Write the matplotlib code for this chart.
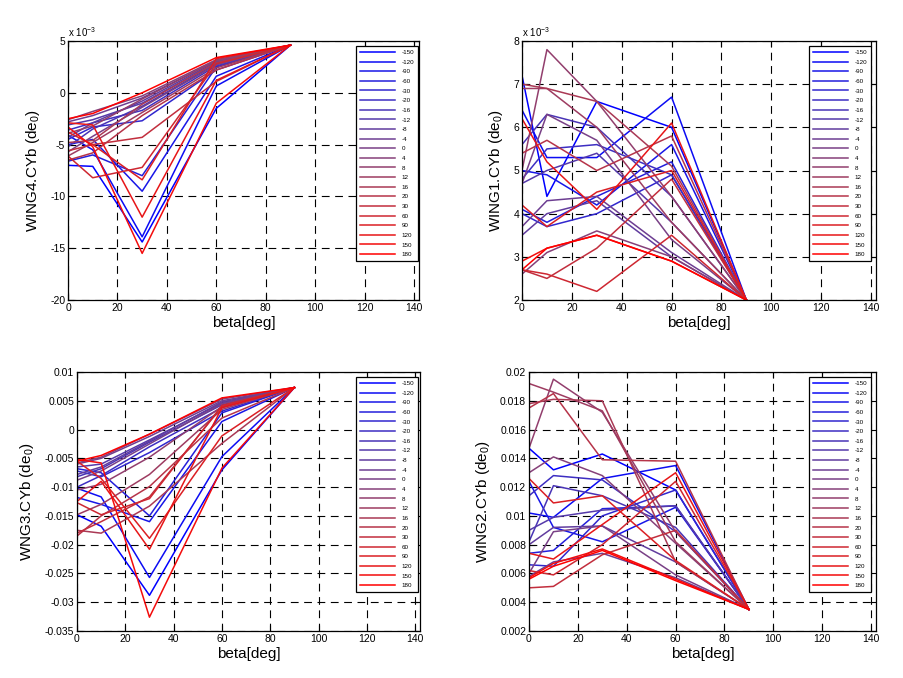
import numpy as np
import matplotlib
matplotlib.use("Agg")
import matplotlib.pyplot as plt

plt.rcParams["font.family"] = ["Liberation Sans", "DejaVu Sans"]
plt.rcParams["axes.unicode_minus"] = False

# control deflections (legend entries)
DE_LABELS = ["-150", "-120", "-90", "-60", "-30", "-20", "-16", "-12", "-8", "-4",
             "0", "4", "8", "12", "16", "20", "30", "60", "90", "120", "150", "180"]
BETA = [0, 10, 30, 60, 90]

# WING4.CYb, units of 1e-3
wing4 = [
    [-7.0, -7.1, -14.4, -1.5, 4.6],
    [-4.1, -5.5, -13.9, 0.66, 4.6],
    [-5.0, -4.5, -9.5, 1.6, 4.6],
    [-6.6, -6.0, -8.0, 2.5, 4.6],
    [-4.5, -3.3, -2.7, 2.2, 4.6],
    [-3.6, -2.9, -1.7, 2.6, 4.6],
    [-5.2, -3.5, -1.3, 2.8, 4.6],
    [-3.1, -2.6, -1.0, 2.9, 4.6],
    [-4.3, -2.9, -0.8, 3.0, 4.6],
    [-2.8, -2.2, -0.5, 3.1, 4.6],
    [-5.7, -4.2, -1.4, 2.7, 4.6],
    [-2.6, -1.8, -0.3, 3.2, 4.6],
    [-3.9, -3.2, -0.6, 3.1, 4.6],
    [-6.1, -4.8, -1.9, 2.4, 4.6],
    [-4.8, -4.6, -1.1, 2.9, 4.6],
    [-6.5, -5.8, -2.2, 2.2, 4.6],
    [-5.6, -5.0, -4.3, 1.1, 4.6],
    [-6.1, -8.2, -7.2, 2.8, 4.6],
    [-3.8, -5.0, -8.4, 3.3, 4.6],
    [-2.9, -3.1, -12.0, 1.2, 4.6],
    [-3.3, -5.2, -15.5, -1.0, 4.6],
    [-2.5, -2.0, 0.0, 3.4, 4.6],
]

# WING1.CYb, units of 1e-3
wing1 = [
    [7.2, 4.4, 6.6, 6.0, 2.0],
    [6.4, 5.3, 5.3, 6.7, 2.0],
    [5.0, 4.9, 4.2, 5.6, 2.0],
    [4.1, 3.8, 4.4, 5.2, 2.0],
    [4.0, 3.7, 4.0, 4.9, 2.0],
    [4.8, 5.5, 5.6, 4.9, 2.0],
    [5.6, 6.3, 6.0, 4.4, 2.0],
    [4.7, 5.0, 5.4, 3.8, 2.0],
    [3.5, 4.0, 4.3, 3.0, 2.0],
    [3.7, 4.3, 4.4, 3.1, 2.0],
    [4.7, 6.3, 5.7, 3.4, 2.0],
    [2.6, 3.1, 3.6, 3.0, 2.0],
    [5.0, 7.8, 6.6, 4.4, 2.0],
    [6.9, 6.9, 6.0, 3.8, 2.0],
    [7.0, 6.9, 6.6, 5.1, 2.0],
    [5.4, 5.7, 5.0, 5.8, 2.0],
    [2.7, 2.5, 3.2, 4.8, 2.0],
    [2.7, 2.6, 2.2, 3.5, 2.0],
    [4.2, 3.7, 4.5, 5.0, 2.0],
    [6.2, 5.2, 4.1, 6.1, 2.0],
    [2.9, 3.2, 3.5, 2.9, 2.0],
    [2.7, 3.2, 3.5, 2.9, 2.0],
]

# WNG3.CYb
wing3 = [
    [-0.0148, -0.0168, -0.0288, -0.0070, 0.0073],
    [-0.0102, -0.0117, -0.0257, -0.0047, 0.0073],
    [-0.0118, -0.0130, -0.0160, 0.0014, 0.0073],
    [-0.0068, -0.0075, -0.0150, 0.0029, 0.0073],
    [-0.0072, -0.0082, -0.0040, 0.0032, 0.0073],
    [-0.0100, -0.0080, -0.0030, 0.0038, 0.0073],
    [-0.0082, -0.0068, -0.0022, 0.0043, 0.0073],
    [-0.0065, -0.0060, -0.0018, 0.0046, 0.0073],
    [-0.0078, -0.0065, -0.0020, 0.0048, 0.0073],
    [-0.0060, -0.0050, -0.0012, 0.0050, 0.0073],
    [-0.0088, -0.0072, -0.0025, 0.0045, 0.0073],
    [-0.0058, -0.0048, -0.0008, 0.0053, 0.0073],
    [-0.0105, -0.0095, -0.0048, 0.0040, 0.0073],
    [-0.0148, -0.0130, -0.0078, 0.0035, 0.0073],
    [-0.0175, -0.0180, -0.0133, -0.0024, 0.0073],
    [-0.0185, -0.0150, -0.0099, 0.0020, 0.0073],
    [-0.0180, -0.0160, -0.0117, 0.0040, 0.0073],
    [-0.0127, -0.0148, -0.0120, 0.0042, 0.0073],
    [-0.0055, -0.0085, -0.0189, -0.0011, 0.0073],
    [-0.0125, -0.0090, -0.0208, 0.0038, 0.0073],
    [-0.0052, -0.0058, -0.0326, -0.0067, 0.0073],
    [-0.0055, -0.0045, -0.0008, 0.0055, 0.0073],
]

# WING2.CYb
wing2 = [
    [0.0147, 0.0132, 0.0143, 0.0118, 0.0035],
    [0.0102, 0.0099, 0.0126, 0.0135, 0.0035],
    [0.0124, 0.0092, 0.0082, 0.0106, 0.0035],
    [0.0074, 0.0076, 0.0105, 0.0107, 0.0035],
    [0.0066, 0.0065, 0.0100, 0.0118, 0.0035],
    [0.0114, 0.0128, 0.0125, 0.0089, 0.0035],
    [0.0082, 0.0121, 0.0114, 0.0092, 0.0035],
    [0.0090, 0.0099, 0.0104, 0.0107, 0.0035],
    [0.0080, 0.0092, 0.0093, 0.0068, 0.0035],
    [0.0058, 0.0068, 0.0074, 0.0057, 0.0035],
    [0.0060, 0.0089, 0.0093, 0.0059, 0.0035],
    [0.0130, 0.0141, 0.0128, 0.0081, 0.0035],
    [0.0147, 0.0195, 0.0172, 0.0089, 0.0035],
    [0.0192, 0.0186, 0.0173, 0.0082, 0.0035],
    [0.0178, 0.0181, 0.0180, 0.0068, 0.0035],
    [0.0175, 0.0185, 0.0139, 0.0138, 0.0035],
    [0.0050, 0.0051, 0.0073, 0.0090, 0.0035],
    [0.0062, 0.0059, 0.0080, 0.0124, 0.0035],
    [0.0126, 0.0109, 0.0114, 0.0069, 0.0035],
    [0.0074, 0.0070, 0.0094, 0.0130, 0.0035],
    [0.0057, 0.0067, 0.0077, 0.0056, 0.0035],
    [0.0056, 0.0065, 0.0076, 0.0055, 0.0035],
]

# blue -> red line colours
n = len(DE_LABELS)
t = np.linspace(0, 1, n)
colors = [(ti, 0.25 * 4 * ti * (1 - ti), 1 - ti) for ti in t]

# panel: data, ylabel, ylim, yticks, exponent, axes rect (px), legend anchor (px)
panels = [
    (wing4, "WING4.CYb (de$_{\\mathregular{0}}$)", (-20, 5), np.arange(-20, 6, 5), True,
     (68, 41, 419, 300), (418, 46)),
    (wing1, "WING1.CYb (de$_{\\mathregular{0}}$)", (2, 8), np.arange(2, 9, 1), True,
     (522, 41, 876, 300), (871, 46)),
    (wing3, "WNG3.CYb (de$_{\\mathregular{0}}$)", (-0.035, 0.01), np.linspace(-0.035, 0.01, 10), False,
     (77, 372, 420, 631), (418, 377)),
    (wing2, "WING2.CYb (de$_{\\mathregular{0}}$)", (0.002, 0.02), np.linspace(0.002, 0.02, 10), False,
     (529, 372, 876, 631), (871, 377)),
]

W, H = 904, 678
fig = plt.figure(figsize=(W / 100, H / 100), dpi=100)

for data, ylab, ylim, yticks, expo, (x0, y0, x1, y1), (lx, ly) in panels:
    ax = fig.add_axes([x0 / W, 1 - y1 / H, (x1 - x0) / W, (y1 - y0) / H])
    for vals, c, lab in zip(data, colors, DE_LABELS):
        ax.plot(BETA, vals, color=c, lw=1.1, label=lab)
    ax.set_xlim(0, 142)
    ax.set_ylim(*ylim)
    ax.set_xticks(np.arange(0, 141, 20))
    ax.set_yticks(yticks)
    ax.set_yticklabels([f"{round(v, 4):g}" for v in yticks])
    ax.tick_params(direction="in", top=True, right=True, length=4, width=0.8,
                   labelsize=7.5, pad=2)
    ax.grid(True, color="black", linestyle=(0, (7, 5)), linewidth=0.8)
    for s in ax.spines.values():
        s.set_linewidth(0.9)
    ax.set_xlabel("beta[deg]", fontsize=11, labelpad=2)
    ax.set_ylabel(ylab, fontsize=11, labelpad=6)
    if expo:
        ax.text(0.0, 1.008, "x 10$^{\\mathregular{-3}}$", transform=ax.transAxes,
                ha="left", va="bottom", fontsize=7)
    leg = ax.legend(loc="upper right", bbox_to_anchor=(lx / W, 1 - ly / H),
                    bbox_transform=fig.transFigure, fontsize=4.5, ncol=1,
                    frameon=True, fancybox=False, framealpha=1, edgecolor="black",
                    borderaxespad=0, borderpad=0.6, labelspacing=0.68,
                    handlelength=5.6, handletextpad=1.1)
    leg.get_frame().set_linewidth(0.9)

fig.savefig("out.png", dpi=100)
